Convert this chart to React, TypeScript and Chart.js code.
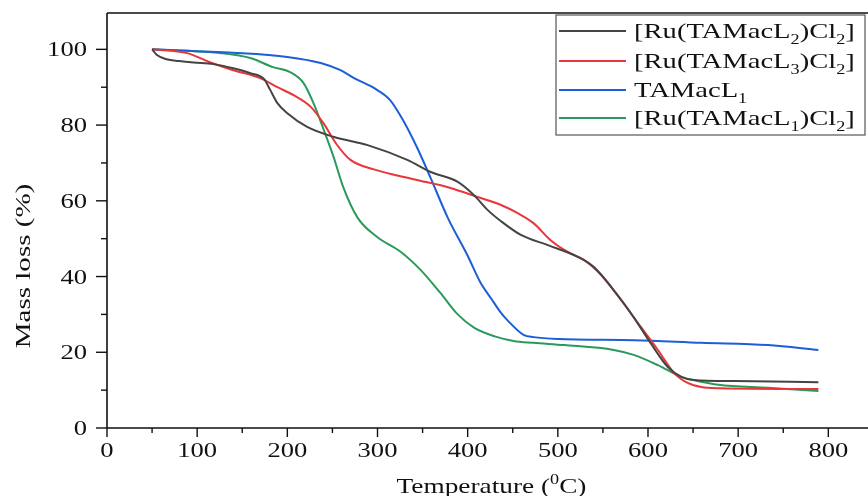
import React, { useEffect, useRef } from "react";
import { Chart, registerables } from "chart.js";

Chart.register(...registerables);

// ---- Data (temperature °C, mass %) ----
const tL2 = [50, 55, 66, 80, 96, 118, 140, 159, 174, 181, 189, 200, 222, 251, 289, 333, 359, 389, 407, 422, 437, 459, 489, 522, 540, 562, 584, 603, 622, 637, 651, 696, 789];
const mL2 = [100, 98.6, 97.4, 96.9, 96.5, 96.1, 95, 93.7, 92.2, 89.3, 85.8, 83.1, 79.5, 76.9, 74.7, 70.8, 67.6, 65, 61.5, 57.6, 54.6, 51, 48.3, 45.2, 42.5, 36.4, 29.3, 22.4, 16.1, 13.5, 12.7, 12.4, 12.1];

const tL3 = [50, 89, 114, 140, 170, 189, 207, 226, 240, 255, 270, 296, 340, 381, 411, 437, 455, 473, 492, 511, 529, 548, 570, 592, 611, 629, 644, 659, 680, 789];
const mL3 = [100, 99, 96.6, 94.5, 92.4, 90, 87.9, 84.8, 80.5, 74.8, 70.8, 68.3, 65.7, 63.4, 61, 58.9, 56.8, 54.1, 49.6, 46.5, 44.4, 40.4, 33.8, 26.7, 20.6, 14.5, 11.9, 10.8, 10.5, 10.3];

const tLig = [50, 140, 200, 237, 259, 274, 296, 314, 329, 344, 359, 378, 400, 414, 426, 437, 444, 462, 473, 500, 585, 659, 733, 789];
const mLig = [100, 99.1, 98, 96.4, 94.5, 92.4, 89.8, 86.6, 81, 74, 66, 55.5, 45.5, 38.5, 34.2, 30.4, 28.5, 24.6, 24, 23.5, 23.2, 22.5, 21.9, 20.6];

const tL1 = [50, 122, 159, 184, 203, 218, 229, 240, 251, 262, 278, 300, 326, 348, 370, 389, 407, 430, 451, 473, 507, 562, 584, 611, 637, 655, 678, 733, 789];
const mL1 = [100, 99.1, 97.7, 95.3, 94, 91.1, 85.8, 79, 71.8, 63.6, 55.5, 50.4, 46.5, 41.7, 35.6, 30, 26.5, 24.2, 23, 22.5, 21.9, 20.6, 19.3, 16.6, 13.5, 12.4, 11.4, 10.6, 9.8];

const yTicks = [0, 20, 40, 60, 80, 100];
const xTicks = [0, 100, 200, 300, 400, 500, 600, 700, 800];

type Seg = { t: string; sub?: boolean; sup?: boolean };
const legendItems: { label: Seg[]; color: string }[] = [
  { label: [{ t: "[Ru(TAMacL" }, { t: "2", sub: true }, { t: ")Cl" }, { t: "2", sub: true }, { t: "]" }], color: "#444444" },
  { label: [{ t: "[Ru(TAMacL" }, { t: "3", sub: true }, { t: ")Cl" }, { t: "2", sub: true }, { t: "]" }], color: "#e8363a" },
  { label: [{ t: "TAMacL" }, { t: "1", sub: true }], color: "#1b5fd8" },
  { label: [{ t: "[Ru(TAMacL" }, { t: "1", sub: true }, { t: ")Cl" }, { t: "2", sub: true }, { t: "]" }], color: "#2a9a5a" },
];
const xTitle: Seg[] = [{ t: "Temperature (" }, { t: "0", sup: true }, { t: "C)" }];
const yTitle = "Mass loss (%)";

const FONT = '"Liberation Serif", "Times New Roman", serif';

function toPts(t: number[], m: number[]) {
  return t.map((x, i) => ({ x, y: m[i] }));
}

function drawSegs(ctx: CanvasRenderingContext2D, segs: Seg[], x: number, y: number, size: number, sx: number, align: "left" | "center" | "right") {
  const small = Math.round(size * 0.65);
  let w = 0;
  for (const s of segs) {
    ctx.font = `${s.sub || s.sup ? small : size}px ${FONT}`;
    w += ctx.measureText(s.t).width;
  }
  ctx.save();
  ctx.translate(x, y);
  ctx.scale(sx, 1);
  let cx = align === "left" ? 0 : align === "center" ? -w / 2 : -w;
  ctx.textAlign = "left";
  ctx.textBaseline = "alphabetic";
  for (const s of segs) {
    ctx.font = `${s.sub || s.sup ? small : size}px ${FONT}`;
    const dy = s.sub ? size * 0.25 : s.sup ? -size * 0.42 : 0;
    ctx.fillText(s.t, cx, dy);
    cx += ctx.measureText(s.t).width;
  }
  ctx.restore();
}

const axesPlugin = {
  id: "customAxes",
  afterDraw(chart: any) {
    const ctx: CanvasRenderingContext2D = chart.ctx;
    const xs = chart.scales.x;
    const ys = chart.scales.y;
    const { left, right, top, bottom } = chart.chartArea;
    ctx.save();
    ctx.strokeStyle = "#111";
    ctx.fillStyle = "#111";
    ctx.lineWidth = 1.6;
    ctx.beginPath();
    ctx.moveTo(left, top);
    ctx.lineTo(left, bottom);
    ctx.moveTo(left, bottom);
    ctx.lineTo(right, bottom);
    ctx.moveTo(left, top);
    ctx.lineTo(right, top);
    ctx.stroke();

    // y ticks
    ctx.lineWidth = 1.4;
    for (let v = 0; v <= 100; v += 10) {
      const py = ys.getPixelForValue(v);
      const len = v % 20 === 0 ? 11 : 6;
      ctx.beginPath();
      ctx.moveTo(left - len, py);
      ctx.lineTo(left, py);
      ctx.stroke();
    }
    // x ticks
    for (let v = 0; v <= 800; v += 50) {
      const px = xs.getPixelForValue(v);
      const len = v % 100 === 0 ? 9 : 5;
      ctx.beginPath();
      ctx.moveTo(px, bottom);
      ctx.lineTo(px, bottom + len);
      ctx.stroke();
    }
    // tick labels
    for (const v of yTicks) {
      const py = ys.getPixelForValue(v);
      drawSegs(ctx, [{ t: String(v) }], left - 20, py + 7, 20, 1.33, "right");
    }
    for (const v of xTicks) {
      const px = xs.getPixelForValue(v);
      drawSegs(ctx, [{ t: String(v) }], px, bottom + 29, 20, 1.33, "center");
    }
    // titles
    drawSegs(ctx, xTitle, (left + right) / 2 + 4, 493, 21, 1.3, "center");
    ctx.save();
    ctx.translate(24, 266);
    ctx.rotate(-Math.PI / 2);
    ctx.scale(1.32, 1);
    ctx.font = `22px ${FONT}`;
    ctx.textAlign = "center";
    ctx.textBaseline = "middle";
    ctx.fillText(yTitle, 0, 0);
    ctx.restore();

    // legend
    const lx = 556, ly = 15, lw = 309, lh = 120;
    ctx.fillStyle = "#fff";
    ctx.fillRect(lx, ly, lw, lh);
    ctx.strokeStyle = "#555";
    ctx.lineWidth = 1.2;
    ctx.strokeRect(lx, ly, lw, lh);
    const rows = [31, 61, 90, 118];
    legendItems.forEach((it, i) => {
      const ry = rows[i];
      ctx.strokeStyle = it.color;
      ctx.lineWidth = 1.8;
      ctx.beginPath();
      ctx.moveTo(559, ry);
      ctx.lineTo(626, ry);
      ctx.stroke();
      ctx.fillStyle = "#111";
      drawSegs(ctx, it.label, 634, ry + 7, 22, 1.3, "left");
    });
    ctx.restore();
  },
};

export default function App() {
  const ref = useRef<HTMLCanvasElement | null>(null);
  useEffect(() => {
    if (!ref.current) return;
    const mk = (label: string, t: number[], m: number[], color: string) => ({
      label,
      data: toPts(t, m),
      borderColor: color,
      backgroundColor: color,
      borderWidth: 2,
      pointRadius: 0,
      tension: 0.4,
      cubicInterpolationMode: "monotone" as const,
      fill: false,
    });
    const chart = new Chart(ref.current, {
      type: "line",
      data: {
        datasets: [
          mk("[Ru(TAMacL2)Cl2]", tL2, mL2, legendItems[0].color),
          mk("[Ru(TAMacL3)Cl2]", tL3, mL3, legendItems[1].color),
          mk("TAMacL1", tLig, mLig, legendItems[2].color),
          mk("[Ru(TAMacL1)Cl2]", tL1, mL1, legendItems[3].color),
        ],
      },
      options: {
        responsive: false,
        animation: false,
        layout: { padding: { left: 107, top: 13, right: 0, bottom: 68 } },
        plugins: { legend: { display: false }, tooltip: { enabled: false } },
        scales: {
          x: { type: "linear", min: 0, max: 844, display: false },
          y: { type: "linear", min: 0, max: 109.6, display: false },
        },
      },
      plugins: [axesPlugin],
    });
    return () => chart.destroy();
  }, []);
  return (
    <div style={{ position: "fixed", left: 0, top: 0, width: 868, height: 496, background: "#fff" }}>
      <canvas ref={ref} width={868} height={496} />
    </div>
  );
}
